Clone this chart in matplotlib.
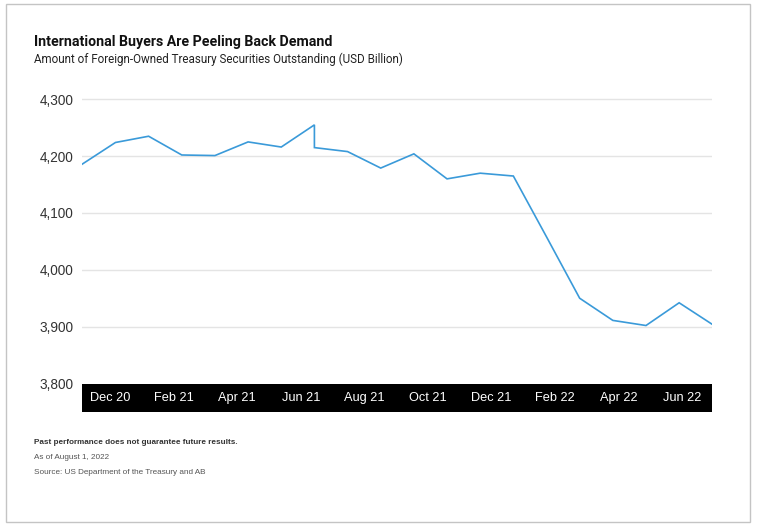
import matplotlib
matplotlib.use("Agg")
import matplotlib.pyplot as plt
from matplotlib.patches import Rectangle
import numpy as np

# month-end values, Nov 20 .. Jun 22 (USD billion)
# Jun 21 has two values: old series / revised series
months = ["Nov 20", "Dec 20", "Jan 21", "Feb 21", "Mar 21", "Apr 21", "May 21", "Jun 21",
          "Jun 21", "Jul 21", "Aug 21", "Sep 21", "Oct 21", "Nov 21", "Dec 21",
          "Jan 22", "Feb 22", "Mar 22", "Apr 22", "May 22", "Jun 22"]
month_index = [0, 1, 2, 3, 4, 5, 6, 7, 7, 8, 9, 10, 11, 12, 13, 14, 15, 16, 17, 18, 19]
holdings = [4186, 4224, 4235, 4202, 4201, 4225, 4216, 4255,
            4215, 4208, 4179, 4204, 4160, 4170, 4165,
            4058, 3950, 3911, 3902, 3942, 3904]

tick_labels = ["Dec 20", "Feb 21", "Apr 21", "Jun 21", "Aug 21",
               "Oct 21", "Dec 21", "Feb 22", "Apr 22", "Jun 22"]
y_ticks = [3800, 3900, 4000, 4100, 4200, 4300]

W, H = 759, 531
fig = plt.figure(figsize=(W / 100, H / 100), dpi=100)

def fx(px):
    return px / W

def fy(py):
    return 1 - py / H

# main plot area
left, right = 82.3, 712.3
y_bottom = 383.5
y_top = 93.6   # a little above the 4,300 line
ax = fig.add_axes([fx(left), fy(y_bottom), fx(right - left), (y_bottom - y_top) / H])
ax.plot(month_index, holdings, color="#3a9ad9", lw=1.2, solid_joinstyle="miter")
ax.set_xlim(0, 19)
ax.set_ylim(3800, 4310)
ax.set_yticks(y_ticks)
ax.set_yticklabels([f"{v:,}" for v in y_ticks], fontsize=9.8, color="#333333",
                   family="Liberation Sans")
ax.tick_params(axis="y", length=0, pad=6)
ax.set_xticks([])
for s in ax.spines.values():
    s.set_visible(False)
for v in y_ticks[1:]:
    ax.axhline(v, color="#e4e4e4", lw=1, zorder=0)

# black band carrying the month labels
band = fig.add_axes([fx(left), fy(411.7), fx(right - left), (411.7 - 384) / H])
band.set_facecolor("black")
band.set_xlim(ax.get_xlim())
band.set_xticks([])
band.set_yticks([])
for s in band.spines.values():
    s.set_visible(False)
for pos, lab in zip(np.linspace(0.83, 18.1, len(tick_labels)), tick_labels):
    band.text(pos, 0.5, lab, transform=band.get_xaxis_transform(), ha="center",
              va="center", color="white", fontsize=9.2, family="Liberation Sans")

# titles
fig.text(fx(34), fy(45.7), "International Buyers Are Peeling Back Demand",
         fontsize=10.2, fontweight="bold", family="Roboto", color="#111111", va="baseline")
fig.text(fx(34), fy(63.3), "Amount of Foreign-Owned Treasury Securities Outstanding (USD Billion)",
         fontsize=8.4, family="Roboto", color="#222222", va="baseline")

# footnotes
fig.text(fx(34), fy(444), "Past performance does not guarantee future results.",
         fontsize=5.9, fontweight="bold", family="Liberation Sans", color="#333333", va="baseline")
fig.text(fx(34), fy(459), "As of August 1, 2022",
         fontsize=5.9, family="Liberation Sans", color="#555555", va="baseline")
fig.text(fx(34), fy(473.5), "Source: US Department of the Treasury and AB",
         fontsize=5.9, family="Liberation Sans", color="#555555", va="baseline")

# outer frame
fig.patches.append(Rectangle((fx(6), fy(522)), fx(744), (522 - 4) / H, transform=fig.transFigure,
                             fill=False, edgecolor="#c4c4c4", lw=1))

fig.savefig("out.png", dpi=100)
